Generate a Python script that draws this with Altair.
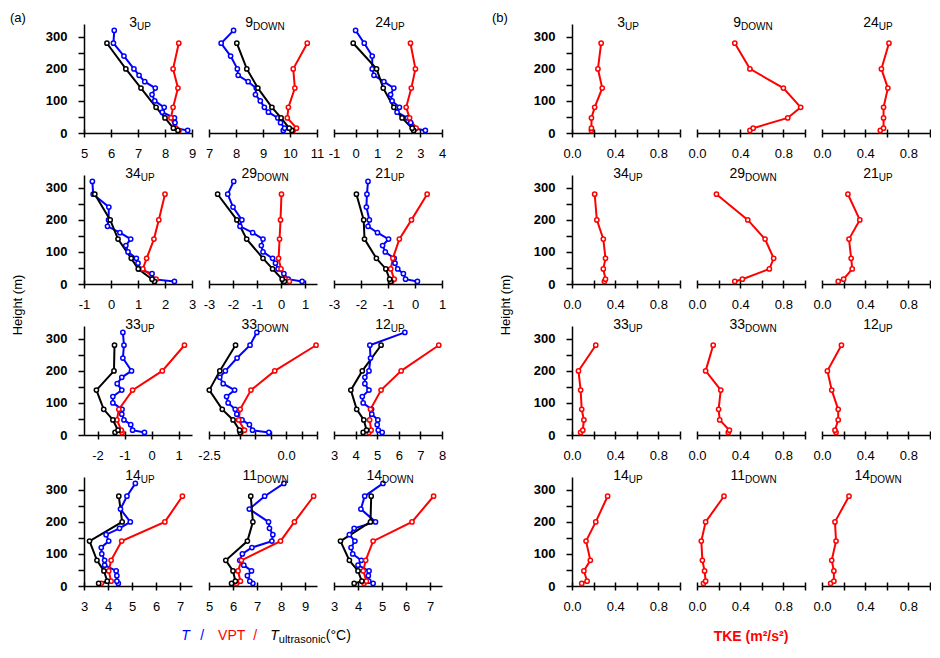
import altair as alt
import pandas as pd

# ---------------- data ----------------
H_T = [8, 15, 32, 47, 65, 80, 100, 120, 140, 160, 180, 200, 240, 280, 320]
H_V = [8, 15, 47, 80, 140, 200, 280]

NUMS = ["3", "9", "24", "34", "29", "21", "33", "33", "12", "14", "11", "14"]
SUBS = ["UP", "DOWN", "UP", "UP", "DOWN", "UP", "UP", "DOWN", "UP", "UP", "DOWN", "DOWN"]

# T (blue) at H_T
T_3UP = [8.84, 8.40, 8.37, 8.35, 7.90, 7.97, 7.62, 7.52, 7.64, 7.25, 7.04, 6.85, 6.48, 6.09, 6.12]
T_9DN = [9.75, 9.80, 9.65, 9.55, 9.20, 9.05, 8.90, 8.72, 8.75, 8.45, 8.08, 8.05, 7.80, 7.45, 7.91]
T_24UP = [3.23, 2.70, 2.55, 2.40, 1.92, 2.03, 1.69, 1.62, 1.77, 1.31, 0.85, 0.77, 0.77, 0.40, 0.00]
T_34UP = [2.35, 1.55, 1.52, 1.04, 1.00, 0.94, 0.63, 0.55, 0.73, 0.33, -0.13, -0.09, -0.08, -0.66, -0.69]
T_29DN = [0.88, 0.30, 0.12, -0.12, -0.23, -0.35, -0.75, -0.82, -0.75, -1.18, -1.71, -1.63, -2.00, -2.22, -1.97]
T_21UP = [0.09, -0.35, -0.43, -0.64, -0.74, -0.77, -1.10, -1.20, -0.98, -1.39, -1.74, -1.69, -1.80, -1.78, -1.74]
T_33UP = [-0.26, -0.70, -0.77, -1.02, -1.10, -1.09, -1.43, -1.43, -1.10, -1.27, -1.10, -0.74, -1.06, -1.02, -1.06]
T_33DN = [-0.56, -1.09, -1.19, -1.43, -1.60, -1.65, -1.88, -1.93, -1.67, -2.04, -2.15, -1.97, -1.59, -1.17, -0.95]
T_12UP = [5.23, 5.05, 5.00, 5.03, 4.75, 4.74, 4.35, 4.31, 4.62, 4.43, 4.43, 4.62, 4.69, 4.66, 6.28]
T_14UP = [4.43, 4.37, 4.37, 4.34, 3.86, 3.86, 3.74, 3.72, 4.03, 3.92, 4.48, 4.93, 4.52, 4.79, 5.14]
T_11DN = [6.83, 6.70, 6.60, 6.77, 6.45, 6.28, 6.39, 6.79, 7.62, 7.66, 7.52, 7.48, 6.68, 7.32, 8.12]
T_14DN = [4.63, 4.45, 4.43, 4.46, 4.00, 4.14, 3.78, 3.71, 3.87, 3.64, 3.84, 4.73, 4.12, 4.28, 5.04]

# VPT (red) at H_V
V_3UP = [8.52, 8.38, 8.22, 8.30, 8.48, 8.30, 8.51]
V_9DN = [10.12, 10.24, 9.90, 9.94, 10.18, 10.12, 10.64]
V_24UP = [2.69, 2.80, 2.50, 2.34, 2.58, 2.77, 2.54]
V_34UP = [1.61, 1.67, 1.18, 1.32, 1.59, 1.77, 2.00]
V_29DN = [0.35, 0.17, 0.00, -0.10, -0.06, -0.02, 0.02]
V_21UP = [-0.86, -0.77, -0.90, -0.82, -0.58, -0.13, 0.45]
V_33UP = [-1.09, -1.12, -1.28, -1.21, -0.70, 0.40, 1.22]
V_33DN = [-1.46, -1.35, -1.54, -1.49, -1.14, -0.37, 0.97]
V_12UP = [4.62, 4.72, 4.65, 4.69, 5.18, 6.11, 7.85]
V_14UP = [3.72, 4.13, 4.03, 4.13, 4.57, 6.37, 7.10]
V_11DN = [6.15, 6.31, 6.21, 6.35, 7.98, 8.56, 9.36]
V_14DN = [4.25, 4.35, 4.22, 4.32, 4.63, 6.25, 7.15]

# T_ultrasonic (black) at H_V
U_3UP = [8.48, 8.31, 8.00, 7.67, 7.11, 6.55, 5.85]
U_9DN = [10.07, 9.97, 9.67, 9.33, 8.81, 8.40, 8.03]
U_24UP = [2.69, 2.62, 2.15, 1.77, 1.28, 0.97, -0.11]
U_34UP = [1.61, 1.52, 1.01, 0.75, 0.26, -0.03, -0.60]
U_29DN = [0.14, 0.05, -0.35, -0.75, -1.43, -1.84, -2.64]
U_21UP = [-0.90, -0.94, -1.08, -1.43, -1.87, -1.90, -2.17]
U_33UP = [-1.35, -1.24, -1.43, -1.77, -2.04, -1.39, -1.37]
U_33DN = [-1.49, -1.51, -1.72, -2.07, -2.49, -2.15, -1.64]
U_12UP = [4.35, 4.51, 4.38, 4.05, 3.78, 4.31, 5.18]
U_14UP = [3.61, 3.97, 3.83, 3.54, 3.23, 4.59, 4.45]
U_11DN = [5.94, 6.10, 6.00, 5.70, 6.60, 6.83, 6.74]
U_14DN = [3.84, 4.16, 4.00, 3.64, 3.27, 4.52, 4.55]

# TKE (red, panel b) at H_V
K_3UP = [0.18, 0.18, 0.18, 0.21, 0.28, 0.24, 0.27]
K_9DN = [0.49, 0.52, 0.84, 0.96, 0.80, 0.49, 0.35]
K_24UP = [0.54, 0.57, 0.57, 0.57, 0.61, 0.55, 0.62]
K_34UP = [0.30, 0.31, 0.29, 0.31, 0.29, 0.23, 0.21]
K_29DN = [0.35, 0.42, 0.67, 0.71, 0.63, 0.47, 0.18]
K_21UP = [0.15, 0.20, 0.28, 0.27, 0.25, 0.35, 0.24]
K_33UP = [0.08, 0.10, 0.11, 0.09, 0.08, 0.06, 0.22]
K_33DN = [0.29, 0.30, 0.21, 0.20, 0.22, 0.08, 0.15]
K_12UP = [0.13, 0.12, 0.15, 0.15, 0.09, 0.05, 0.18]
K_14UP = [0.09, 0.14, 0.11, 0.17, 0.13, 0.22, 0.33]
K_11DN = [0.06, 0.08, 0.07, 0.05, 0.04, 0.08, 0.25]
K_14DN = [0.08, 0.11, 0.11, 0.09, 0.13, 0.12, 0.25]

T_ALL = [T_3UP, T_9DN, T_24UP, T_34UP, T_29DN, T_21UP, T_33UP, T_33DN, T_12UP, T_14UP, T_11DN, T_14DN]
V_ALL = [V_3UP, V_9DN, V_24UP, V_34UP, V_29DN, V_21UP, V_33UP, V_33DN, V_12UP, V_14UP, V_11DN, V_14DN]
U_ALL = [U_3UP, U_9DN, U_24UP, U_34UP, U_29DN, U_21UP, U_33UP, U_33DN, U_12UP, U_14UP, U_11DN, U_14DN]
K_ALL = [K_3UP, K_9DN, K_24UP, K_34UP, K_29DN, K_21UP, K_33UP, K_33DN, K_12UP, K_14UP, K_11DN, K_14DN]

# x-axis setup of the temperature panels
X_DOMAINS = [(5, 9), (7, 11), (-1, 4), (-1, 3), (-3, 1.5), (-3, 1),
             (-2.5, 1.5), (-2.5, 1.0), (3, 8), (3, 7.5), (5, 9.5), (3, 7.5)]
X_TICKS = [[5, 6, 7, 8, 9], [7, 8, 9, 10, 11], [-1, 0, 1, 2, 3, 4], [-1, 0, 1, 2, 3],
           [-3, -2, -1, 0, 1], [-3, -2, -1, 0, 1], [-2, -1, 0, 1],
           [-2.5, -2.0, -1.5, -1.0, -0.5, 0.0, 0.5, 1.0], [3, 4, 5, 6, 7, 8],
           [3, 4, 5, 6, 7], [5, 6, 7, 8, 9], [3, 4, 5, 6, 7]]
X_LABEL_STEP = [1, 1, 1, 1, 1, 1, 1, 2.5, 1, 1, 1, 1]
X_FMT = ["d", "d", "d", "d", "d", "d", "d", ".1f", "d", "d", "d", "d"]
TKE_TICKS = [0.0, 0.2, 0.4, 0.6, 0.8, 1.0]

# ---------------- styling ----------------
W, H = 108, 109
COL_GAP, ROW_GAP = 17, 42
SPACER_W = 96
BLUE, RED, BLACK = "#0000ff", "#ff0000", "#000000"
FONT = "Liberation Sans"

EM = {"0": .556, "1": .556, "2": .556, "3": .556, "4": .556, "5": .556, "6": .556,
      "7": .556, "8": .556, "9": .556, "U": .722, "P": .667, "D": .722, "O": .778,
      "W": .944, "N": .722, "T": .611, "V": .667, "/": .278, " ": .278, "u": .556,
      "l": .222, "t": .278, "r": .333, "a": .556, "s": .5, "o": .556, "n": .556,
      "i": .222, "c": .5, "(": .333, ")": .333, "°": .4, "C": .722}


def tw(s, size):
    return sum(EM.get(ch, 0.6) for ch in s) * size


CSCALE = alt.Scale(domain=["T", "VPT", "Tu", "TKE"], range=[BLUE, RED, BLACK, RED])

AX = dict(domainColor=BLACK, domainWidth=1.5, tickColor=BLACK, tickWidth=1.5,
          labelColor=BLACK, labelFont=FONT, labelFontSize=13, grid=False, title=None,
          labelFlush=False)


def label_expr(step, fmt):
    return (f"abs(datum.value / {step} - round(datum.value / {step})) < 0.001 ? "
            f"replace(format(datum.value, '{fmt}'), '\u2212', '-') : ''")


def xaxis(ticks, step, fmt):
    return alt.Axis(orient="bottom", values=ticks, tickSize=4, labelPadding=10,
                    labelOverlap=False, labelExpr=label_expr(step, fmt), **AX)


def inner_axis(ticks):
    return alt.Axis(orient="top", offset=-H, values=ticks, labels=False, domain=False,
                    tickSize=4, tickColor=BLACK, tickWidth=1.5, grid=False, title=None)


YAXIS = alt.Axis(values=list(range(0, 301, 50)),
                 labelExpr="datum.value % 100 == 0 ? datum.label : ''",
                 tickSize=6, labelPadding=11, labelFontWeight="bold", **AX)

NO_FRAME = alt.ViewBackground(stroke="transparent", strokeWidth=0)


def txt(s, x, y, size, color=BLACK, align="left", baseline="alphabetic",
        weight="normal", style="normal", angle=0):
    kw = dict(fontSize=size, color=color, align=align, baseline=baseline,
              fontWeight=weight, fontStyle=style, font=FONT)
    if angle:
        kw["angle"] = angle
    return alt.Chart(pd.DataFrame({"t": [s]})).mark_text(**kw).encode(
        text="t:N", x=alt.value(x), y=alt.value(y))


def title_layers(num, sub):
    wn, ws = tw(num, 14), tw(sub, 10)
    split = W / 2 + 2 - (wn + ws) / 2 + wn
    return [txt(num, split, 3, 14, align="right"),
            txt(sub, split, 5.5, 10, align="left")]


def panel(df, dom, ticks, step, fmt, show_y, num, sub, extra):
    xs = alt.Scale(domain=list(dom), nice=False, zero=False)
    ys = alt.Scale(domain=[0, 340], nice=False)
    base = alt.Chart(df)
    lines = base.mark_line(strokeWidth=2).encode(
        x=alt.X("v:Q", scale=xs, axis=xaxis(ticks, step, fmt)),
        y=alt.Y("h:Q", scale=ys, axis=YAXIS if show_y else None),
        color=alt.Color("s:N", scale=CSCALE, legend=None),
        order=alt.Order("h:Q"),
    )
    pts = base.mark_point(shape="circle", filled=True, fill="white", size=18,
                          strokeWidth=1.5, opacity=1).encode(
        x=alt.X("v:Q", scale=xs, axis=inner_axis(ticks)),
        y=alt.Y("h:Q", scale=ys, axis=None),
        stroke=alt.Stroke("s:N", scale=CSCALE, legend=None),
    )
    layers = [lines, pts] + title_layers(num, sub) + extra
    return (alt.layer(*layers)
            .resolve_axis(x="independent", y="independent")
            .properties(width=W, height=H, view=NO_FRAME))


def temp_df(i):
    rows = [("T", h, v) for h, v in zip(H_T, T_ALL[i])]
    rows += [("VPT", h, v) for h, v in zip(H_V, V_ALL[i])]
    rows += [("Tu", h, v) for h, v in zip(H_V, U_ALL[i])]
    return pd.DataFrame(rows, columns=["s", "h", "v"])


def tke_df(i):
    return pd.DataFrame({"s": "TKE", "h": H_V, "v": K_ALL[i]})


def height_label():
    return txt("Height (m)", -66, H + 21, 13, align="center", baseline="middle", angle=270)


def a_bottom_label():
    segs = [("T", BLUE, 14, "italic", 0, 0), ("/", BLUE, 14, "normal", 10.5, 0),
            ("VPT", RED, 14, "normal", 14, 0), ("/", RED, 14, "normal", 8, 0),
            ("T", BLACK, 14, "italic", 13, 0), ("ultrasonic", BLACK, 11, "normal", 0, 3),
            ("(°C)", BLACK, 14, "normal", 0, 0)]
    total = sum(tw(s, sz) + g for s, _, sz, _, g, _ in segs)
    x = W / 2 + 3 - total / 2
    out = []
    for s, col, sz, st, g, dy in segs:
        x += g
        out.append(txt(s, x, H + 54 + dy, sz, color=col, style=st))
        x += tw(s, sz)
    return out


def spacer():
    blank = (alt.Chart(pd.DataFrame({"v": [0.0], "h": [0.0]}))
             .mark_point(opacity=0, size=1)
             .encode(x=alt.X("v:Q", axis=None), y=alt.Y("h:Q", axis=None)))
    return blank.properties(width=SPACER_W, height=H, view=NO_FRAME)


cells = []
for r in range(4):
    for c in range(3):
        i = 3 * r + c
        extra = []
        if i == 0:
            extra.append(txt("(a)", -74, -12, 13, baseline="top"))
        if i == 3:
            extra.append(height_label())
        if i == 10:
            extra += a_bottom_label()
        cells.append(panel(temp_df(i), X_DOMAINS[i], X_TICKS[i], X_LABEL_STEP[i], X_FMT[i],
                           c == 0, NUMS[i], SUBS[i], extra))
    cells.append(spacer())
    for c in range(3):
        i = 3 * r + c
        extra = []
        if i == 0:
            extra.append(txt("(b)", -80, -12, 13, baseline="top"))
        if i == 3:
            extra.append(height_label())
        if i == 10:
            extra.append(txt("TKE (m²/s²)", W / 2, H + 55, 14, color=RED,
                             align="center", weight="bold"))
        cells.append(panel(tke_df(i), (0, 1.0), TKE_TICKS, 0.4, ".1f",
                           c == 0, NUMS[i], SUBS[i], extra))

chart = (alt.concat(*cells, columns=7, spacing={"row": ROW_GAP, "column": COL_GAP},
                    bounds="flush")
         .properties(padding={"top": 4, "left": 2, "right": 0, "bottom": 0})
         .configure_view(strokeWidth=0, stroke="transparent")
         .configure(font=FONT))

chart.save("out.html", embed_options={"renderer": "svg", "actions": False})
